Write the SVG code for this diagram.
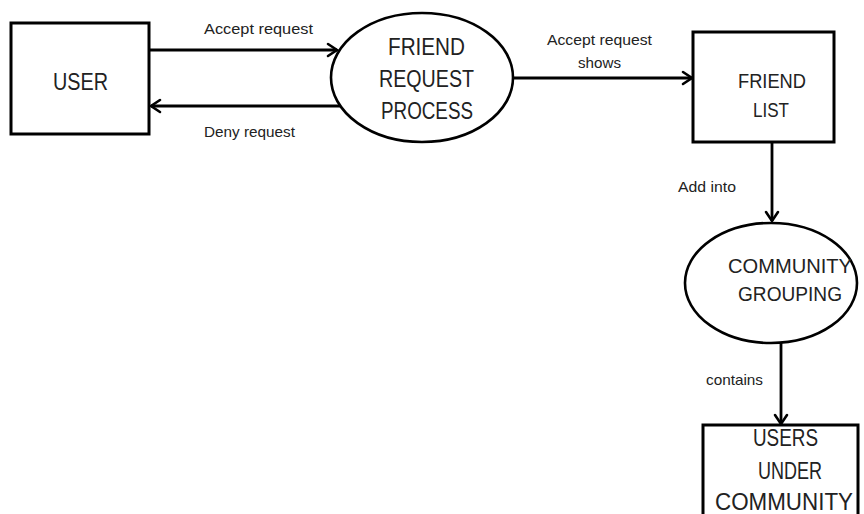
<svg xmlns="http://www.w3.org/2000/svg" width="864" height="514" viewBox="0 0 864 514">
<defs>
<marker id="arr" markerUnits="userSpaceOnUse" markerWidth="24" markerHeight="24" viewBox="-12 -12 24 24" refX="0" refY="0" orient="auto" overflow="visible">
<path d="M-9,-6 L0,0 L-9,6" fill="none" stroke="#000" stroke-width="2.6" stroke-linecap="round" stroke-linejoin="miter"/>
</marker>
<style>
.box{fill:#fff;stroke:#000;stroke-width:3}
.proc{fill:#fff;stroke:#000;stroke-width:2.6}
.t{font-family:"Liberation Sans",Arial,sans-serif;fill:#222;text-anchor:middle}
.big{font-size:23px}
.mid{font-size:21px}
.lbl{font-size:15px}
.con{fill:none;stroke:#000;stroke-width:2.8}
</style>
</defs>
<rect width="864" height="514" fill="#fff"/>
<g id="connectors">
<line class="con" x1="149" y1="50" x2="337" y2="50" marker-end="url(#arr)"/>
<line class="con" x1="340" y1="106" x2="151" y2="106" marker-end="url(#arr)"/>
<line class="con" x1="513" y1="78" x2="692" y2="78" marker-end="url(#arr)"/>
<line class="con" x1="772" y1="142" x2="772" y2="221" marker-end="url(#arr)"/>
<line class="con" x1="781" y1="343" x2="781" y2="424" marker-end="url(#arr)"/>
<text class="t lbl" x="258.5" y="34" textLength="109" lengthAdjust="spacingAndGlyphs">Accept  request</text>
<text class="t lbl" x="249.5" y="137" textLength="91" lengthAdjust="spacingAndGlyphs">Deny request</text>
<text class="t lbl" x="599.5" y="45" textLength="105" lengthAdjust="spacingAndGlyphs">Accept request</text>
<text class="t lbl" x="599.5" y="68" textLength="43" lengthAdjust="spacingAndGlyphs">shows</text>
<text class="t lbl" x="707" y="192" textLength="58" lengthAdjust="spacingAndGlyphs">Add into</text>
<text class="t lbl" x="734.5" y="385" textLength="57" lengthAdjust="spacingAndGlyphs">contains</text>
</g>
<g id="user">
<rect class="box" x="11" y="23" width="138" height="111"/>
<text class="t big" x="80.5" y="90" textLength="55" lengthAdjust="spacingAndGlyphs">USER</text>
</g>
<g id="friend-request-process">
<ellipse class="proc" cx="422" cy="77.5" rx="91" ry="64.5"/>
<text class="t big" x="426.5" y="55" textLength="77" lengthAdjust="spacingAndGlyphs">FRIEND</text>
<text class="t big" x="426.5" y="87" textLength="95" lengthAdjust="spacingAndGlyphs">REQUEST</text>
<text class="t big" x="427" y="119" textLength="92" lengthAdjust="spacingAndGlyphs">PROCESS</text>
</g>
<g id="friend-list">
<rect class="box" x="693" y="32" width="141" height="110"/>
<text class="t mid" x="772" y="88" textLength="68" lengthAdjust="spacingAndGlyphs">FRIEND</text>
<text class="t mid" x="771" y="117" textLength="36" lengthAdjust="spacingAndGlyphs">LIST</text>
</g>
<g id="community-grouping">
<ellipse class="proc" cx="771" cy="283" rx="86" ry="60"/>
<text class="t mid" x="790" y="273" textLength="124" lengthAdjust="spacingAndGlyphs">COMMUNITY</text>
<text class="t mid" x="790" y="301" textLength="104" lengthAdjust="spacingAndGlyphs">GROUPING</text>
</g>
<g id="users-under-community">
<rect class="box" x="703" y="425" width="155" height="110"/>
<text class="t big" x="785.5" y="446" textLength="65" lengthAdjust="spacingAndGlyphs">USERS</text>
<text class="t big" x="790" y="479" textLength="64" lengthAdjust="spacingAndGlyphs">UNDER</text>
<text class="t big" x="784" y="510" textLength="138" lengthAdjust="spacingAndGlyphs">COMMUNITY</text>
</g>
</svg>
